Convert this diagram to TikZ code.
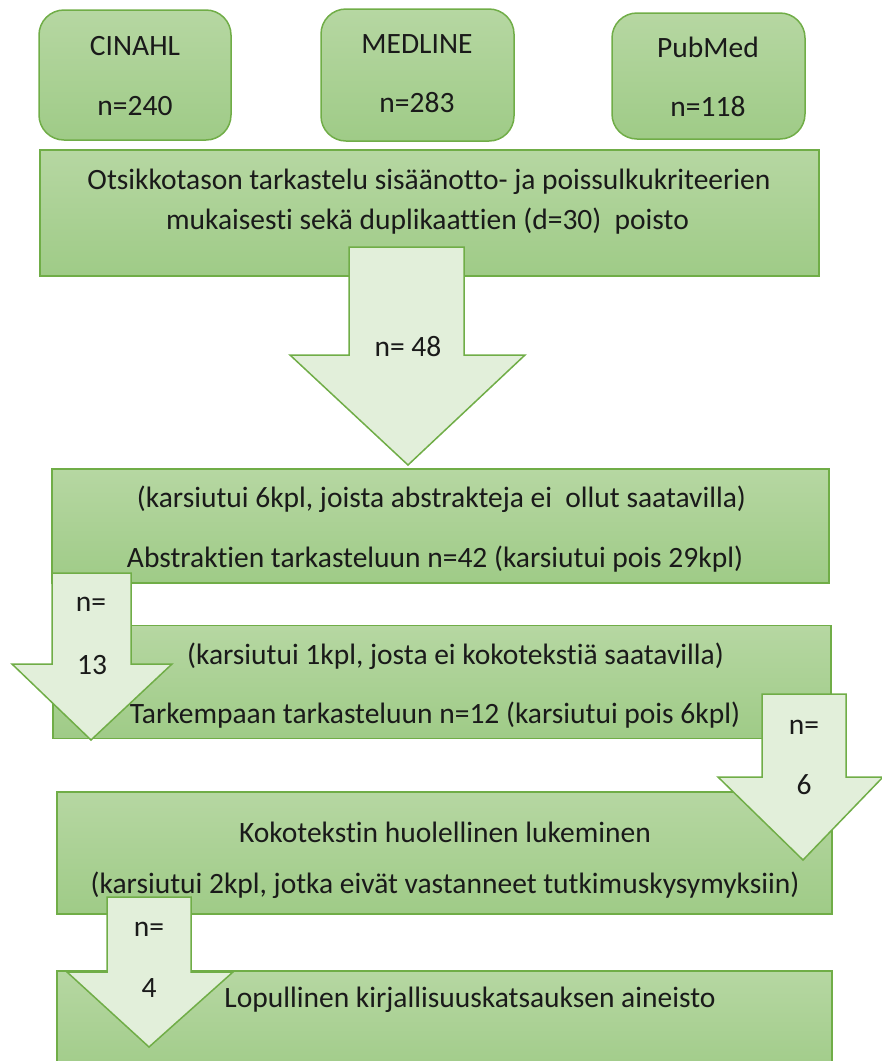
\documentclass[tikz,border=0pt]{standalone}
\usepackage{fontspec}
\setmainfont{Carlito}[Ligatures={NoCommon}]
\definecolor{gborder}{HTML}{70AD47}
\definecolor{gtop}{HTML}{B6D7A2}
\definecolor{gbot}{HTML}{9FCB87}
\definecolor{afill}{HTML}{E2EFDA}
\definecolor{txt}{HTML}{1A1A1A}
\tikzset{
  box/.style={draw=gborder, line width=1.5pt, top color=gtop, bottom color=gbot, inner sep=0pt},
  dbbox/.style={box, rounded corners=25pt},
  blockarrow/.style={draw=gborder, line width=1.5pt, fill=afill, line join=miter},
  lbl/.style={font=\fontsize{29.5}{36}\selectfont, text=txt, inner sep=0pt, anchor=center},
}
\begin{document}
\begin{tikzpicture}[x=1pt,y=-1pt]
\useasboundingbox (0,0) rectangle (882,1061);
\clip (0,0) rectangle (882,1061);
% database boxes
\node[dbbox, minimum width=192pt, minimum height=130pt] (cinahl) at (135,75) {};
\node[dbbox, minimum width=193pt, minimum height=132pt] (medline) at (417.5,75) {};
\node[dbbox, minimum width=193pt, minimum height=126pt] (pubmed) at (708.5,76) {};
\node[lbl] (cinahlA) at (135,46) {CINAHL};
\node[lbl] (cinahlB) at (135,106) {n=240};
\node[lbl] (medlineA) at (417,44) {MEDLINE};
\node[lbl] (medlineB) at (417,103) {n=283};
\node[lbl] (pubmedA) at (708,47) {PubMed};
\node[lbl] (pubmedB) at (708,107) {n=118};
% process boxes
\node[box, minimum width=779pt, minimum height=126pt] (b1) at (429.5,213) {};
\node[box, minimum width=777pt, minimum height=114pt] (b2) at (440.5,526) {};
\node[box, minimum width=778pt, minimum height=113pt] (b3) at (442,682) {};
\node[box, minimum width=775pt, minimum height=122pt] (b4) at (444.5,853) {};
\node[box, minimum width=775pt, minimum height=110pt] (b5) at (444.5,1026) {};
\node[lbl] (b1a) at (429,182) {Otsikkotason tarkastelu sisäänotto- ja poissulkukriteerien};
\node[lbl] (b1b) at (427.5,221) {mukaisesti sekä duplikaattien (d=30)\ \ poisto};
\node[lbl] (b2a) at (441.5,499) {(karsiutui 6kpl, joista abstrakteja ei\ \ ollut saatavilla)};
\node[lbl] (b2b) at (435,559) {Abstraktien tarkasteluun n=42 (karsiutui pois 29kpl)};
\node[lbl] (b3a) at (455.5,656) {(karsiutui 1kpl, josta ei kokotekstiä saatavilla)};
\node[lbl] (b3b) at (435,715) {Tarkempaan tarkasteluun n=12 (karsiutui pois 6kpl)};
\node[lbl] (b4a) at (445,832) {Kokotekstin huolellinen lukeminen};
\node[lbl] (b4b) at (445,885) {(karsiutui 2kpl, jotka eivät vastanneet tutkimuskysymyksiin)};
\node[lbl] (b5a) at (470,1000) {Lopullinen kirjallisuuskatsauksen aineisto};
% block arrows
\draw[blockarrow] (349,247) -- (464,247) -- (464,355) -- (525,355) -- (408,465) -- (290,355) -- (349,355) -- cycle;
\node[lbl] (a1) at (408,347) {n= 48};
\draw[blockarrow] (52,573) -- (131,573) -- (131,664) -- (172,664) -- (91,740) -- (12,664) -- (52,664) -- cycle;
\node[lbl] (a2a) at (91,604) {n=};
\node[lbl] (a2b) at (92,665) {13};
\draw[blockarrow] (762,694) -- (846,694) -- (846,777) -- (883,777) -- (803,860) -- (718,777) -- (762,777) -- cycle;
\node[lbl] (a3a) at (804,727) {n=};
\node[lbl] (a3b) at (804,785) {6};
\draw[blockarrow] (107,897) -- (191,897) -- (191,972) -- (233,972) -- (149,1047) -- (67,972) -- (107,972) -- cycle;
\node[lbl] (a4a) at (149,929) {n=};
\node[lbl] (a4b) at (149,988) {4};
\end{tikzpicture}
\end{document}
